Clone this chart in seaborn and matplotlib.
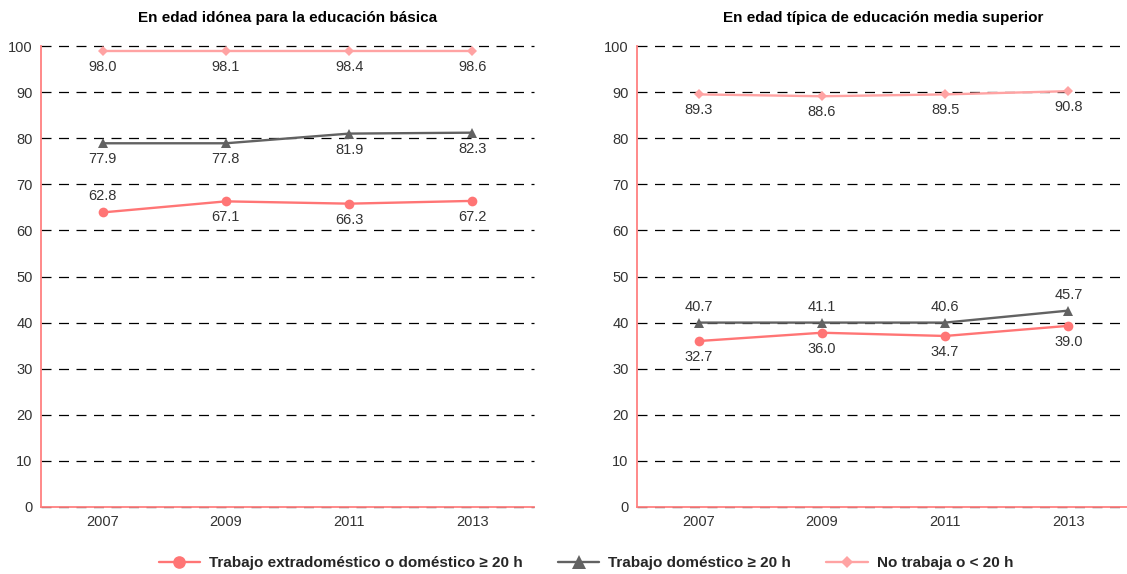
import matplotlib
matplotlib.use("Agg")
import matplotlib.pyplot as plt
from matplotlib.ticker import FixedLocator
import seaborn as sns
import pandas as pd

# Data
years = ["2007", "2009", "2011", "2013"]
series = ["Trabajo extradoméstico o doméstico ≥ 20 h",
          "Trabajo doméstico ≥ 20 h",
          "No trabaja o < 20 h"]
titles = ["En edad idónea para la educación básica",
          "En edad típica de educación media superior"]

# left panel (plotted position)
basica_extra = [63.9, 66.3, 65.8, 66.4]
basica_dom = [78.9, 78.9, 81.0, 81.2]
basica_no = [98.9, 98.9, 98.9, 98.9]
# left panel data labels
basica_extra_lbl = ["62.8", "67.1", "66.3", "67.2"]
basica_dom_lbl = ["77.9", "77.8", "81.9", "82.3"]
basica_no_lbl = ["98.0", "98.1", "98.4", "98.6"]

# right panel
media_extra = [36.0, 37.8, 37.1, 39.3]
media_dom = [40.0, 40.0, 40.0, 42.6]
media_no = [89.5, 89.1, 89.5, 90.2]
media_extra_lbl = ["32.7", "36.0", "34.7", "39.0"]
media_dom_lbl = ["40.7", "41.1", "40.6", "45.7"]
media_no_lbl = ["89.3", "88.6", "89.5", "90.8"]

panels = [
    [basica_extra, basica_dom, basica_no],
    [media_extra, media_dom, media_no],
]
panel_labels = [
    [basica_extra_lbl, basica_dom_lbl, basica_no_lbl],
    [media_extra_lbl, media_dom_lbl, media_no_lbl],
]
# label above (+1) or below (-1) the point
label_side = [
    [[1, -1, -1, -1], [-1, -1, -1, -1], [-1, -1, -1, -1]],
    [[-1, -1, -1, -1], [1, 1, 1, 1], [-1, -1, -1, -1]],
]

colors = ["#ff7575", "#626262", "#ffa3a3"]
markers = ["o", "^", "D"]
msizes = [7, 7.5, 5]
axis_red = "#ff8080"
text_col = "#333333"

sns.set_style("white")
plt.rcParams["font.family"] = ["Liberation Sans", "DejaVu Sans"]

fig = plt.figure(figsize=(11.27, 5.74), dpi=100)
ax1 = fig.add_axes([41 / 1127, 67 / 574, 493 / 1127, 461 / 574])
ax2 = fig.add_axes([637 / 1127, 67 / 574, 493 / 1127, 461 / 574])

for p, ax in enumerate([ax1, ax2]):
    for s in range(3):
        df = pd.DataFrame({"year": years, "valor": panels[p][s]})
        sns.lineplot(data=df, x="year", y="valor", ax=ax, color=colors[s],
                     marker=markers[s], markersize=msizes[s], markeredgewidth=0,
                     linewidth=1.7, sort=False, label=series[s], legend=False)
        for i, (v, t) in enumerate(zip(panels[p][s], panel_labels[p][s])):
            side = label_side[p][s][i]
            ax.annotate(t, (i, v), xytext=(0, 11.5 * side), textcoords="offset points",
                        ha="center", va="center", fontsize=10.5, color=text_col)

    ax.set_xlim(-0.5, 3.5)
    ax.set_ylim(0, 100)
    ax.set_yticks(range(0, 101, 10))
    ax.set_xlabel("")
    ax.set_ylabel("")
    ax.xaxis.set_minor_locator(FixedLocator([-0.5, 0.5, 1.5, 2.5, 3.5]))
    ax.tick_params(axis="x", which="major", length=0, pad=6, labelsize=10.5, labelcolor=text_col)
    ax.tick_params(axis="x", which="minor", length=4, width=1.1, color=axis_red, direction="out")
    ax.tick_params(axis="y", which="major", length=4, width=1.1, color=axis_red, direction="out",
                   pad=2, labelsize=10.5, labelcolor=text_col)
    ax.yaxis.grid(True, color="black", linestyle=(0, (8, 6)), linewidth=0.9)
    for gl in ax.get_ygridlines():
        gl.set_clip_on(False)
    ax.set_axisbelow(True)
    for side in ["top", "right"]:
        ax.spines[side].set_visible(False)
    for side in ["left", "bottom"]:
        ax.spines[side].set_color(axis_red)
        ax.spines[side].set_linewidth(1.3)
        ax.spines[side].set_zorder(3)
    ax.set_title(titles[p], fontsize=11, fontweight="bold", pad=17, color="black")

handles = ax1.lines[:3]
fig.legend(handles, series, loc="center", bbox_to_anchor=(0.52, 0.019), ncol=3,
           frameon=False, handlelength=2.7, handletextpad=0.6, columnspacing=2.3,
           markerscale=1.3, prop={"weight": "bold", "size": 11})

plt.savefig("out.png", dpi=100)
